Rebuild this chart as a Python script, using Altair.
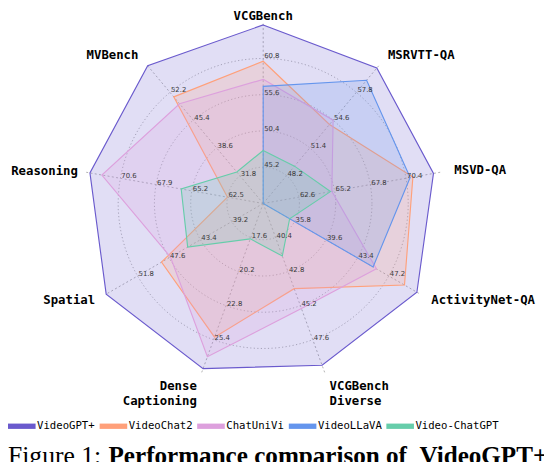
import math
import pandas as pd
import altair as alt

# ---------------- data ----------------
axis_names = ["VCGBench", "MSRVTT-QA", "MSVD-QA", "ActivityNet-QA",
              "VCGBench\nDiverse", "Dense\nCaptioning", "Spatial", "Reasoning", "MVBench"]
axis_min = [40.0, 45.0, 60.0, 32.0, 38.0, 15.0, 35.0, 59.8, 25.0]
axis_max = [66.0, 61.0, 73.0, 51.0, 50.0, 28.0, 56.0, 73.3, 59.0]

models = ["VideoGPT+", "VideoChat2", "ChatUniVi", "VideoLLaVA", "Video-ChatGPT"]
model_colors = ["#6a5acd", "#ffa07a", "#dda0dd", "#6495ed", "#66cdaa"]

videogpt_plus = [65.6, 60.6, 72.4, 50.6, 49.4, 27.6, 56.0, 72.9, 58.7]
videochat2 = [60.4, 54.1, 70.9, 49.1, 44.0, 25.2, 48.6, 62.5, 51.1]
chatunivi = [57.8, 54.6, 65.0, 45.7, 45.4, 26.7, 47.4, 72.0, 49.4]
videollava = [56.8, 59.2, 70.7, 45.3, None, None, None, None, None]
video_chatgpt = [47.6, 49.3, 64.9, 35.2, 41.7, 17.7, 45.1, 66.0, 32.7]
series = [videogpt_plus, videochat2, chatunivi, videollava, video_chatgpt]

caption_plain = "Figure 1:"
caption_bold = "Performance comparison of \u00a0VideoGPT+"

# ---------------- geometry ----------------
W, H = 544, 454
CX, CY = 259, 195
R = 184.0
N = len(axis_names)
N_RINGS = 5


def ang(i):
    return math.radians(90.0 - 360.0 / N * i)


poly_rows = []
for m, vals in zip(models, series):
    for i, v in enumerate(vals):
        frac = 0.0 if v is None else (v - axis_min[i]) / (axis_max[i] - axis_min[i])
        r = frac * R
        poly_rows.append({"model": m, "i": i, "value": v,
                          "x": r * math.cos(ang(i)), "y": r * math.sin(ang(i))})
df_poly = pd.DataFrame(poly_rows)

ring_rows = []
for k in range(1, N_RINGS):
    for j in range(0, 145):
        t = 2 * math.pi * j / 144
        ring_rows.append({"k": k, "j": j, "x": R * k / N_RINGS * math.cos(t),
                          "y": R * k / N_RINGS * math.sin(t)})
df_rings = pd.DataFrame(ring_rows)

df_spokes = pd.DataFrame([{"i": i, "x0": 0.0, "y0": 0.0,
                           "x1": R * math.cos(ang(i)), "y1": R * math.sin(ang(i))}
                          for i in range(N)])

tick_rows = []
for i in range(N):
    step = (axis_max[i] - axis_min[i]) / N_RINGS
    for k in range(1, N_RINGS):
        r = R * k / N_RINGS
        tick_rows.append({"i": i, "k": k, "label": f"{axis_min[i] + k * step:.1f}",
                          "x": r * math.cos(ang(i)), "y": r * math.sin(ang(i))})
df_ticks = pd.DataFrame(tick_rows)

name_rows = []
for i, nm in enumerate(axis_names):
    c = math.cos(ang(i))
    side = "left" if c > 0.1 else ("right" if c < -0.1 else "center")
    rl = 196.5 if side == "center" else (191.0 if nm == "Reasoning" else 197.0)
    name_rows.append({"name": nm, "side": side,
                      "x": rl * math.cos(ang(i)), "y": rl * math.sin(ang(i))})
df_names = pd.DataFrame(name_rows)

xs = alt.Scale(domain=[-CX, W - CX], nice=False, zero=False)
ys = alt.Scale(domain=[-(H - CY), CY], nice=False, zero=False)
X = lambda f: alt.X(f, type="quantitative", scale=xs, axis=None)
Y = lambda f: alt.Y(f, type="quantitative", scale=ys, axis=None)

grid_color = "#a0a0a0"

rings = alt.Chart(df_rings).mark_line(color=grid_color, strokeWidth=0.8, strokeDash=[1.2, 2.4]).encode(
    x=X("x"), y=Y("y"), detail="k:N", order="j:Q")

spokes = alt.Chart(df_spokes).mark_rule(color=grid_color, strokeWidth=0.8, strokeDash=[2, 2.4]).encode(
    x=X("x0"), y=Y("y0"), x2="x1:Q", y2="y1:Q")

model_scale = alt.Scale(domain=models, range=model_colors)
legend = alt.Legend(orient="none", legendX=4, legendY=411, direction="horizontal",
                    title=None, symbolType="M-1.4,-0.27H1.4V0.27H-1.4Z",
                    symbolSize=400, symbolStrokeWidth=0, symbolOpacity=1,
                    labelFont="DejaVu Sans Mono", labelFontSize=10.8,
                    labelColor="black", labelOffset=5.5, columnPadding=4, padding=0)

polys = alt.Chart(df_poly).mark_line(interpolate="linear-closed", strokeWidth=1.15).encode(
    x=X("x"), y=Y("y"), order="i:Q",
    stroke=alt.Stroke("model:N", scale=model_scale, sort=models, legend=None),
    fill=alt.Fill("model:N", scale=model_scale, sort=models, legend=legend),
    fillOpacity=alt.value(0.2),
    detail="model:N")

ticks = alt.Chart(df_ticks).mark_text(align="left", baseline="alphabetic", dx=1, dy=0,
                                      font="DejaVu Sans", fontSize=7, color="#3a3a3a").encode(
    x=X("x"), y=Y("y"), text="label:N")


def names_layer(side, baseline):
    return alt.Chart(df_names).transform_filter(alt.datum.side == side).mark_text(
        align=side, baseline=baseline, font="DejaVu Sans Mono", fontWeight="bold",
        fontSize=12.5, lineBreak="\n", lineHeight=15, color="black").encode(
        x=X("x"), y=Y("y"), text="name:N")


names_l = names_layer("left", "middle")
names_r = names_layer("right", "middle")
names_c = names_layer("center", "top")

cap1 = alt.Chart(pd.DataFrame({"t": [caption_plain]})).mark_text(
    align="left", baseline="alphabetic", font="Liberation Serif", fontSize=26, color="black").encode(
    x=alt.value(0), y=alt.value(459), text="t:N")
cap2 = alt.Chart(pd.DataFrame({"t": [caption_bold]})).mark_text(
    align="left", baseline="alphabetic", font="Liberation Serif", fontWeight="bold", fontSize=25.5,
    color="black").encode(
    x=alt.value(102), y=alt.value(459), text="t:N")

chart = alt.layer(rings, spokes, polys, ticks, names_l, names_r, names_c, cap1, cap2).properties(
    width=W, height=H, padding=0, autosize=alt.AutoSizeParams(type="none")
).configure_view(stroke=None)

chart.save("out.html", embed_options={"renderer": "svg", "actions": False})
